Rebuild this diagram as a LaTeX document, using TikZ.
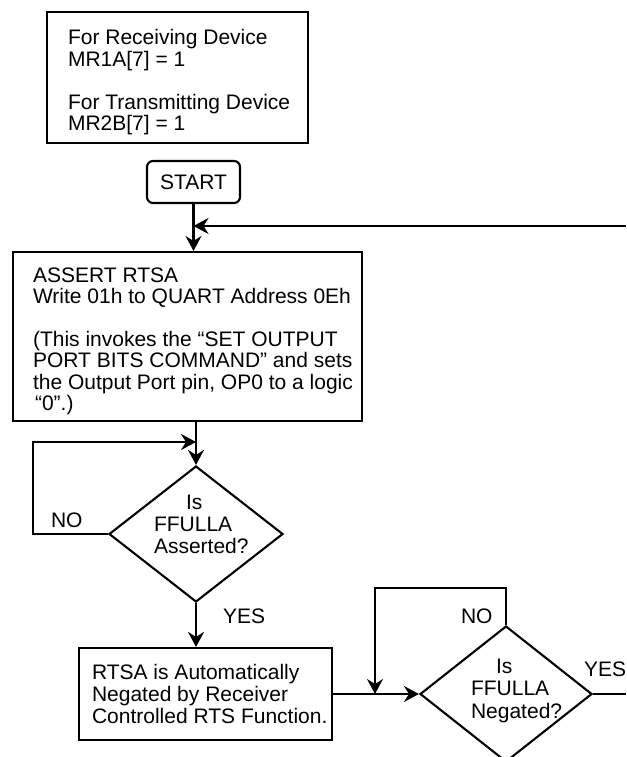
\documentclass[tikz,border=0pt]{standalone}
\usepackage{fontspec}
\setmainfont{Liberation Sans}
\usetikzlibrary{shapes.geometric,arrows.meta,calc}
\begin{document}
\begin{tikzpicture}[x=1pt,y=-1pt,
  line width=2.1pt,
  box/.style={draw, rectangle, inner sep=0pt, line width=2.1pt},
  dia/.style={draw, diamond, inner sep=0pt, line width=2.1pt},
  txt/.style={inner sep=0pt, align=left, anchor=base west, font=\fontsize{21}{21.4}\selectfont},
  dtxt/.style={inner sep=0pt, align=left, anchor=base west, font=\fontsize{21}{22}\selectfont},
  lbl/.style={inner sep=0pt, anchor=base west, font=\fontsize{21}{21.4}\selectfont},
  arr/.style={-{Stealth[length=15pt,width=16pt,inset=5pt]}}]
\clip (0,0) rectangle (626,757);

% configuration box (text nodes anchored at the baseline of their last line)
\node[box, minimum width=261pt, minimum height=131pt] (cfg) at (177.5,77.5) {};
\node[txt, font=\fontsize{21}{21.5}\selectfont] (cfgt) at (67,131) {For Receiving Device\\MR1A[7] = 1\\[21.5pt]For Transmitting Device\\MR2B[7] = 1};

% start
\node[box, rounded corners=6pt, minimum width=93pt, minimum height=42pt, font=\fontsize{21}{21.4}\selectfont] (start) at (193.5,182) {START};

% assert box
\node[box, minimum width=349pt, minimum height=169pt] (assert) at (187.5,336.5) {};
\node[txt] (assertt) at (32,410.4) {ASSERT RTSA\\Write 01h to QUART Address 0Eh\\[21.4pt](This invokes the “SET OUTPUT\\PORT BITS COMMAND” and sets\\the Output Port pin, OP0 to a logic\\\hspace*{2pt}“0”.)};

% decision 1
\node[dia, minimum width=174pt, minimum height=136pt] (d1) at (196,534) {};
\node[dtxt] (d1t) at (153,553) {\hspace*{32pt}Is\\FFULLA\\Asserted?};
\node[lbl] (no1) at (50,527) {NO};
\node[lbl] (yes1) at (222,623) {YES};

% rtsa box
\node[box, minimum width=253pt, minimum height=92pt] (rtsa) at (205.5,694) {};
\node[dtxt] (rtsat) at (91,723) {RTSA is Automatically\\Negated by Receiver\\Controlled RTS Function.};

% decision 2
\node[dia, minimum width=172pt, minimum height=136pt] (d2) at (506,694) {};
\node[dtxt, font=\fontsize{21}{22.5}\selectfont] (d2t) at (470,718) {\hspace*{25pt}Is\\FFULLA\\Negated?};
\node[lbl] (no2) at (460,623) {NO};
\node[lbl] (yes2) at (583,676) {YES};

% coordinates
\coordinate (fbR) at (626,226);
\coordinate (l1a) at (33,534);
\coordinate (l1b) at (33,442);
\coordinate (l1j) at (196,442);
\coordinate (l2a) at (506,588);
\coordinate (l2b) at (375,588);
\coordinate (l2j) at (375,694);
\coordinate (yesR) at (626,694);

% connectors
\draw[arr] (start.south) -- (start.south |- assert.north);
\draw[arr] (fbR) -- (fbR -| start.south);
\draw[arr] (assert.south -| d1.north) -- (d1.north);
\draw[arr] (d1.west) -- (l1a) -- (l1b) -- (l1j);
\draw[arr] (d1.south) -- (d1.south |- rtsa.north);
\draw[arr] (rtsa.east) -- (d2.west);
\draw[arr] (d2.north) -- (l2a) -- (l2b) -- (l2j);
\draw (d2.east) -- (yesR);
\end{tikzpicture}
\end{document}
